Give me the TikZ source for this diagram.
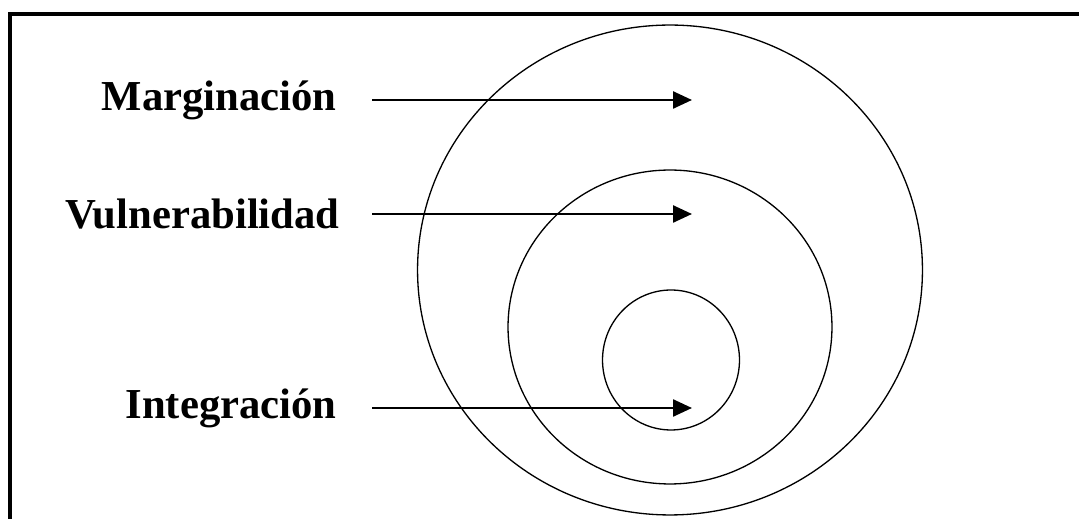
\documentclass[tikz,border=0pt]{standalone}
\usepackage{fontspec}
\setmainfont{Liberation Serif}
\usetikzlibrary{arrows.meta,positioning,shapes.geometric}
\tikzset{
  ringnode/.style={ellipse,draw=black,line width=0.75pt,inner sep=0pt},
  levelnode/.style={inner sep=0pt,font=\fontsize{24.3}{28}\selectfont\bfseries},
  levelarrow/.style={-{Triangle[length=3.8mm,width=3.4mm]},line width=1.4pt,draw=black},
  framerule/.style={line width=2pt,draw=black}
}

\begin{document}
\begin{tikzpicture}[x=0.02cm,y=-0.02cm]
  \useasboundingbox (0,0) rectangle (1079,519);
  \draw[framerule] (1085,14) -- (10,14) -- (10,525);
  \node[ringnode,minimum width=10.1cm,minimum height=9.8cm] (outer) at (670,270) {};
  \node[ringnode,minimum width=6.48cm,minimum height=6.28cm] (middle) at (670,327) {};
  \node[ringnode,minimum width=2.74cm,minimum height=2.8cm] (inner) at (671,360) {};
  \coordinate (tailM) at (372,100);
  \coordinate (tipM) at (692,100);
  \coordinate (tailV) at (372,214);
  \coordinate (tipV) at (692,214);
  \coordinate (tailI) at (372,408);
  \coordinate (tipI) at (692,408);
  \node[levelnode,left=7mm of tailM] (marg) {Marginación};
  \node[levelnode,left=6.4mm of tailV] (vuln) {Vulnerabilidad};
  \node[levelnode,left=7mm of tailI] (integ) {Integración};
  \draw[levelarrow] (tailM) -- (tipM);
  \draw[levelarrow] (tailV) -- (tipV);
  \draw[levelarrow] (tailI) -- (tipI);
\end{tikzpicture}
\end{document}
